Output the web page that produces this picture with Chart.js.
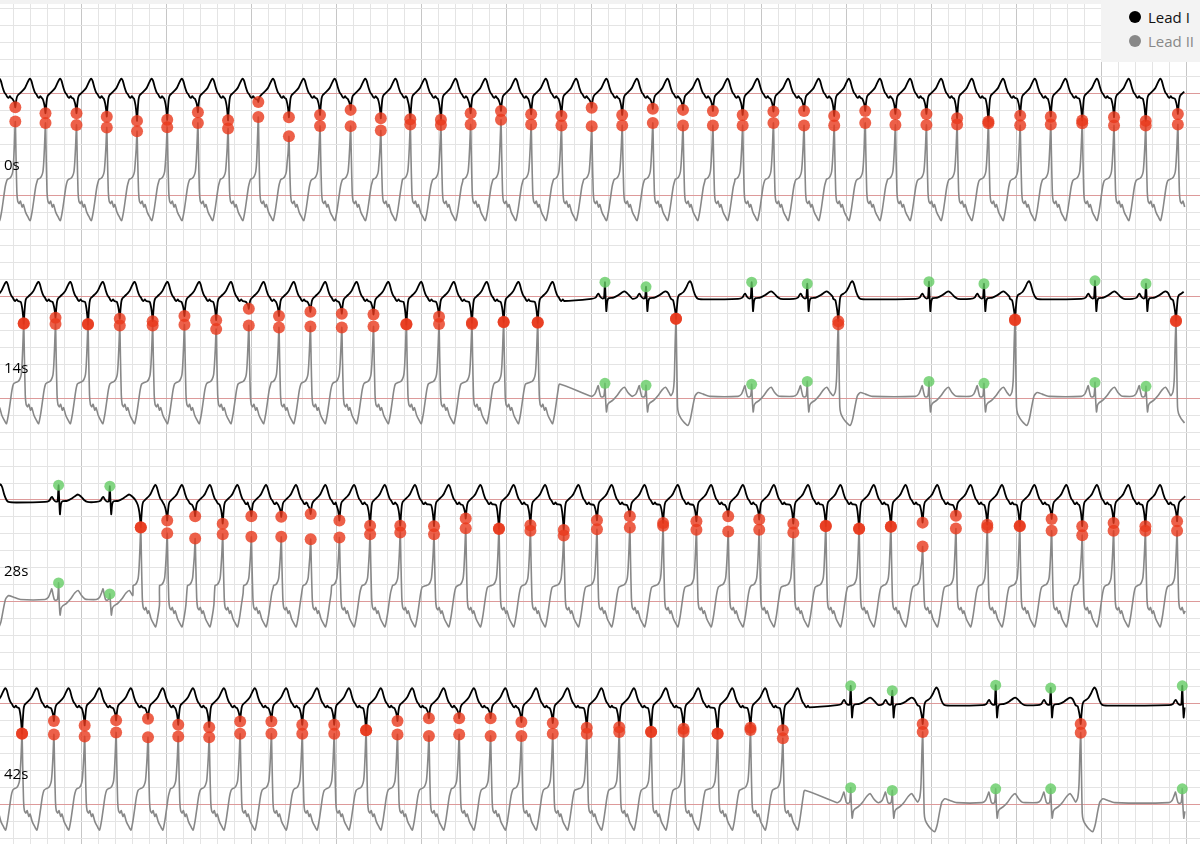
<!DOCTYPE html>
<html>
<head>
<meta charset="utf-8">
<script src="https://cdn.jsdelivr.net/npm/chart.js@4.4.1/dist/chart.umd.min.js"></script>
<style>
  html, body { margin: 0; padding: 0; background: #fff; }
  #wrap { position: relative; width: 1200px; height: 844px; overflow: hidden; }
  #topband { position: absolute; left: 0; top: 0; width: 1200px; height: 4px; background: #f2f2f2; z-index: 2; }
  #legend { position: absolute; left: 1101px; top: 0; width: 99px; height: 62px; background: #f3f3f3; z-index: 3;
            font-family: "Open Sans", "Noto Sans", sans-serif; font-size: 15px; }
  .item { position: absolute; left: 0; height: 20px; display: flex; align-items: center; white-space: nowrap; }
  .dot { width: 12px; height: 12px; border-radius: 50%; margin-left: 28px; margin-right: 7px; }
</style>
</head>
<body>
<div id="wrap">
  <canvas id="c"></canvas>
  <div id="topband"></div>
  <div id="legend"></div>
</div>
<script>
// ---------------- DATA ----------------
const ROW_LABELS = ['0s', '14s', '28s', '42s'];
const SERIES_NAMES = ['Lead I', 'Lead II'];

// beat times (s within row), beat types (V = ventricular run beat, P = isolated PVC, N = normal),
// lead I value at the marker (mV), lead II value at the marker (mV)
const row0Times = [-0.14, 0.219, 0.574, 0.939, 1.295, 1.651, 2.006, 2.367, 2.722, 3.078, 3.438, 3.804, 4.164, 4.519, 4.866, 5.226, 5.576, 5.933, 6.288, 6.644, 7.000, 7.359, 7.719, 8.074, 8.426, 8.776, 9.138, 9.498, 9.853, 10.218, 10.573, 10.938, 11.299, 11.667, 12.041, 12.401, 12.771, 13.145, 13.518, 13.896];
const row0Types = ['V','V','V','V','V','V','V','V','V','V','V','V','V','V','V','V','V','V','V','V','V','V','V','V','V','V','V','V','V','V','V','V','V','V','V','V','V','V','V','V'];
const row0Lead1 = [-0.12, -0.081, -0.116, -0.116, -0.136, -0.161, -0.155, -0.110, -0.158, -0.049, -0.140, -0.126, -0.096, -0.146, -0.152, -0.155, -0.116, -0.102, -0.122, -0.132, -0.083, -0.126, -0.090, -0.096, -0.102, -0.126, -0.106, -0.102, -0.132, -0.102, -0.120, -0.120, -0.146, -0.165, -0.130, -0.136, -0.159, -0.140, -0.161, -0.120];
const row0Lead2 = [0.41, 0.435, 0.427, 0.415, 0.400, 0.378, 0.402, 0.427, 0.394, 0.462, 0.348, 0.409, 0.408, 0.382, 0.418, 0.415, 0.418, 0.445, 0.418, 0.412, 0.408, 0.412, 0.427, 0.412, 0.412, 0.412, 0.427, 0.412, 0.412, 0.427, 0.415, 0.415, 0.418, 0.425, 0.413, 0.418, 0.425, 0.412, 0.412, 0.418];

const row1Times = [-0.06, 0.318, 0.692, 1.074, 1.448, 1.835, 2.209, 2.582, 2.966, 3.321, 3.691, 4.060, 4.433, 4.820, 5.204, 5.591, 5.964, 6.365, 7.156, 7.639, 7.992, 8.882, 9.536, 9.901, 10.968, 11.615, 11.980, 12.921, 13.521, 13.874];
const row1Types = ['V','V','V','V','V','V','V','V','V','V','V','V','V','V','V','V','V','V','N','N','P','N','N','P','N','N','P','N','N','P'];
const row1Lead1 = [-0.13, -0.159, -0.124, -0.164, -0.130, -0.144, -0.114, -0.138, -0.071, -0.114, -0.089, -0.100, -0.105, -0.164, -0.118, -0.154, -0.148, -0.154, 0.086, 0.059, -0.130, 0.086, 0.077, -0.144, 0.089, 0.077, -0.134, 0.094, 0.077, -0.140];
const row1Lead2 = [0.42, 0.443, 0.439, 0.439, 0.431, 0.431, 0.435, 0.409, 0.431, 0.419, 0.425, 0.419, 0.425, 0.439, 0.439, 0.439, 0.449, 0.449, 0.089, 0.077, 0.470, 0.083, 0.100, 0.437, 0.100, 0.089, 0.461, 0.094, 0.071, 0.455];

const row2Times = [-0.12, 0.728, 1.331, 1.695, 2.006, 2.335, 2.659, 2.996, 3.348, 3.694, 4.032, 4.393, 4.748, 5.145, 5.518, 5.909, 6.279, 6.671, 7.062, 7.449, 7.840, 8.232, 8.606, 8.971, 9.372, 9.754, 10.146, 10.520, 10.893, 11.285, 11.654, 12.036, 12.411, 12.771, 13.140, 13.514, 13.887];
const row2Types = ['P','N','N','V','V','V','V','V','V','V','V','V','V','V','V','V','V','V','V','V','V','V','V','V','V','V','V','V','V','V','V','V','V','V','V','V','V'];
const row2Lead1 = [-0.13, 0.087, 0.081, -0.161, -0.122, -0.096, -0.140, -0.096, -0.100, -0.083, -0.122, -0.152, -0.152, -0.155, -0.110, -0.171, -0.149, -0.177, -0.120, -0.096, -0.136, -0.126, -0.096, -0.116, -0.140, -0.155, -0.171, -0.159, -0.134, -0.093, -0.146, -0.155, -0.112, -0.155, -0.136, -0.155, -0.126];
const row2Lead2 = [0.43, 0.110, 0.045, 0.437, 0.403, 0.372, 0.398, 0.382, 0.382, 0.368, 0.378, 0.398, 0.408, 0.398, 0.433, 0.431, 0.418, 0.390, 0.427, 0.437, 0.447, 0.424, 0.413, 0.424, 0.408, 0.447, 0.431, 0.443, 0.325, 0.431, 0.437, 0.447, 0.418, 0.392, 0.418, 0.418, 0.418];

const row3Times = [-0.07, 0.298, 0.673, 1.035, 1.405, 1.780, 2.136, 2.500, 2.864, 3.232, 3.595, 3.971, 4.346, 4.715, 5.085, 5.441, 5.811, 6.173, 6.542, 6.942, 7.324, 7.699, 8.081, 8.481, 8.868, 9.249, 10.047, 10.536, 10.894, 11.753, 12.400, 12.753, 13.948];
const row3Types = ['V','V','V','V','V','V','V','V','V','V','V','V','V','V','V','V','V','V','V','V','V','V','V','V','V','V','N','N','P','N','N','P','N'];
const row3Lead1 = [-0.13, -0.181, -0.106, -0.132, -0.102, -0.093, -0.128, -0.142, -0.108, -0.108, -0.128, -0.128, -0.161, -0.106, -0.089, -0.089, -0.089, -0.112, -0.118, -0.146, -0.142, -0.171, -0.152, -0.181, -0.146, -0.161, 0.102, 0.073, -0.124, 0.106, 0.089, -0.124, 0.102];
const row3Lead2 = [0.42, 0.421, 0.415, 0.403, 0.427, 0.398, 0.403, 0.398, 0.419, 0.419, 0.419, 0.419, 0.439, 0.415, 0.406, 0.415, 0.406, 0.406, 0.419, 0.419, 0.429, 0.431, 0.431, 0.421, 0.441, 0.392, 0.100, 0.084, 0.429, 0.094, 0.094, 0.425, 0.094];

// beat waveform shapes: [time from marker (s), offset (mV), share of the marker value]
const vtLead1 = [[-0.035,-0.03,0],[-0.018,-0.02,0.3],[-0.008,0,0.7],[0,0,1],[0.008,0,0.6],[0.018,-0.01,0.15],[0.03,-0.01,0],[0.05,0,0],[0.075,0.012,0],[0.095,0.022,0],[0.115,0.035,0],[0.14,0.062,0],[0.16,0.082,0],[0.175,0.088,0],[0.19,0.074,0],[0.21,0.036,0],[0.23,0.008,0],[0.25,-0.006,0],[0.265,-0.02,0],[0.28,-0.025,0],[0.295,-0.015,0],[0.31,-0.025,0]];
const vtLead2 = [[-0.09,0.095,0],[-0.065,0.1,0],[-0.045,0.115,0],[-0.03,0.14,0],[-0.02,0.2,0],[-0.01,0,0.72],[0,0,1],[0.008,0,0.55],[0.018,0.02,0],[0.028,-0.035,0],[0.045,-0.05,0],[0.06,-0.035,0],[0.08,-0.07,0],[0.095,-0.055,0],[0.12,-0.1,0],[0.15,-0.13,0],[0.175,-0.15,0],[0.2,-0.09,0],[0.22,-0.02,0],[0.24,0.05,0],[0.258,0.085,0]];
const normalLead1 = [[-0.16,-0.012,0],[-0.11,-0.005,0],[-0.09,0.012,0],[-0.075,0.018,0],[-0.055,0,0],[-0.03,-0.01,0],[-0.012,-0.008,0],[-0.005,0,0.5],[0,0,1],[0.006,0,0.2],[0.016,-0.085,0],[0.028,-0.025,0],[0.045,-0.008,0],[0.1,-0.005,0],[0.16,0.01,0],[0.2,0.025,0],[0.23,0.032,0],[0.26,0.022,0],[0.3,0,0],[0.34,-0.012,0]];
const normalLead2 = [[-0.16,0.012,0],[-0.12,0.025,0],[-0.095,0.055,0],[-0.08,0.075,0],[-0.065,0.04,0],[-0.05,0.012,0],[-0.03,0.008,0],[-0.012,0.015,0],[-0.005,0,0.5],[0,0,1],[0.008,-0.01,0],[0.018,-0.08,0],[0.03,-0.04,0],[0.05,-0.025,0],[0.09,-0.012,0],[0.14,0.015,0],[0.19,0.05,0],[0.23,0.065,0],[0.27,0.035,0],[0.31,0.015,0],[0.35,0.012,0]];
const pvcLead1 = [[-0.06,-0.012,0],[-0.035,-0.02,0],[-0.018,-0.02,0.3],[-0.008,0,0.7],[0,0,1],[0.008,0,0.6],[0.02,-0.012,0],[0.035,0.01,0],[0.06,0.018,0],[0.09,0.03,0],[0.12,0.055,0],[0.145,0.082,0],[0.165,0.092,0],[0.185,0.075,0],[0.21,0.03,0],[0.235,0,0],[0.26,-0.012,0],[0.35,-0.015,0]];
const pvcLead2 = [[-0.06,0.015,0],[-0.035,0.04,0],[-0.02,0.12,0],[-0.01,0,0.7],[0,0,1],[0.008,0,0.5],[0.018,-0.05,0],[0.03,-0.09,0],[0.06,-0.12,0],[0.1,-0.145,0],[0.14,-0.16,0],[0.17,-0.12,0],[0.2,-0.04,0],[0.225,0.015,0],[0.26,0.035,0],[0.32,0.025,0],[0.4,0.012,0]];

// ---------------- LAYOUT ----------------
const ROW_SPAN = 14;          // seconds per row
const TRACE_END = 13.985;     // where the recorded strip stops in each row
const ROW_GAP = 1.2;          // mV between rows
const LEAD_GAP = 0.6;         // mV between Lead I and Lead II
const TOP_BASE = -0.5;        // Lead I baseline of first row
const LABEL_DROP = 0.425;     // row label below Lead I baseline
const X_MIN = 0.0388, X_MAX = X_MIN + 1200 / 85;
const Y_MAX = 0.053, Y_MIN = Y_MAX - 844 / 169.3;

const rows = [
  { times: row0Times, types: row0Types, l1: row0Lead1, l2: row0Lead2 },
  { times: row1Times, types: row1Types, l1: row1Lead1, l2: row1Lead2 },
  { times: row2Times, types: row2Types, l1: row2Lead1, l2: row2Lead2 },
  { times: row3Times, types: row3Types, l1: row3Lead1, l2: row3Lead2 }
];
const SHAPES = { V: [vtLead1, vtLead2], N: [normalLead1, normalLead2], P: [pvcLead1, pvcLead2] };
const baseOf = (r, lead) => TOP_BASE - r * ROW_GAP - lead * LEAD_GAP;
const BASELINES = [];
for (let r = 0; r < rows.length; r++) { BASELINES.push(baseOf(r, 0), baseOf(r, 1)); }

function buildTrace(row, lead, base) {
  const pts = [];
  const amps = lead === 0 ? row.l1 : row.l2;
  for (let i = 0; i < row.times.length; i++) {
    const shape = SHAPES[row.types[i]][lead];
    const next = i + 1 < row.times.length ? row.times[i + 1] + SHAPES[row.types[i + 1]][lead][0][0] : Infinity;
    for (const [dt, off, share] of shape) {
      const t = row.times[i] + dt;
      if (dt > 0 && t >= next) continue;
      if (t < 0 || t > TRACE_END) continue;
      pts.push({ x: t, y: base + off + share * amps[i] });
    }
  }
  return pts;
}

const lead1Data = [], lead2Data = [], redDots = [], greenDots = [];
rows.forEach((row, r) => {
  const b1 = baseOf(r, 0), b2 = baseOf(r, 1);
  lead1Data.push(...buildTrace(row, 0, b1), { x: TRACE_END, y: null });
  lead2Data.push(...buildTrace(row, 1, b2), { x: TRACE_END, y: null });
  row.times.forEach((t, i) => {
    if (t < 0) return;
    const target = row.types[i] === 'N' ? greenDots : redDots;
    target.push({ x: t, y: b1 + row.l1[i] }, { x: t, y: b2 + row.l2[i] });
  });
});

const X_TICKS = [];
for (let k = 1; k <= ROW_SPAN * 5; k++) X_TICKS.push(Math.round(k * 2) / 10);
const Y_TICKS = [];
for (let k = -49; k <= 0; k++) Y_TICKS.push(k / 10);

const rowLabelPlugin = {
  id: 'rowLabels',
  afterDatasetsDraw(chart) {
    const { ctx, chartArea } = chart;
    const y = chart.scales.y;
    ctx.save();
    ctx.font = '15px "Open Sans", "Noto Sans", sans-serif';
    ctx.fillStyle = '#000';
    ctx.textBaseline = 'middle';
    ctx.textAlign = 'left';
    ROW_LABELS.forEach((lab, r) => {
      ctx.fillText(lab, chartArea.left + 4, y.getPixelForValue(baseOf(r, 0) - LABEL_DROP));
    });
    ctx.restore();
  }
};

const chart = new Chart(document.getElementById('c'), {
  type: 'line',
  data: {
    datasets: [
      { label: 'beats', data: redDots, showLine: false, pointRadius: 6, pointHoverRadius: 6,
        pointBackgroundColor: 'rgba(232, 56, 28, 0.8)', pointBorderWidth: 0, borderColor: 'rgba(0,0,0,0)', order: 0 },
      { label: 'normal', data: greenDots, showLine: false, pointRadius: 5.5, pointHoverRadius: 5.5,
        pointBackgroundColor: 'rgba(100, 204, 100, 0.8)', pointBorderWidth: 0, borderColor: 'rgba(0,0,0,0)', order: 0 },
      { label: SERIES_NAMES[0], data: lead1Data, borderColor: '#000000', backgroundColor: '#000000',
        borderWidth: 1.8, pointRadius: 0, tension: 0.2, spanGaps: false, order: 1 },
      { label: SERIES_NAMES[1], data: lead2Data, borderColor: '#888888', backgroundColor: '#888888',
        borderWidth: 1.6, pointRadius: 0, tension: 0.2, spanGaps: false, order: 2 }
    ]
  },
  options: {
    responsive: true,
    maintainAspectRatio: false,
    animation: false,
    devicePixelRatio: 1,
    layout: { padding: 0, autoPadding: false },
    plugins: { legend: { display: false }, tooltip: { enabled: false } },
    events: [],
    scales: {
      x: {
        type: 'linear', min: X_MIN, max: X_MAX,
        afterBuildTicks: (s) => { s.ticks = X_TICKS.map(v => ({ value: v })); },
        ticks: { display: false },
        border: { display: false },
        grid: {
          drawTicks: false, lineWidth: 1,
          color: (c) => (c.tick && Math.abs(c.tick.value - Math.round(c.tick.value)) < 1e-6) ? '#c6c6c6' : '#e4e4e4'
        }
      },
      y: {
        type: 'linear', min: Y_MIN, max: Y_MAX,
        afterBuildTicks: (s) => { s.ticks = Y_TICKS.map(v => ({ value: v })); },
        ticks: { display: false },
        border: { display: false },
        grid: {
          drawTicks: false, lineWidth: 1,
          color: (c) => (c.tick && BASELINES.some(b => Math.abs(b - c.tick.value) < 1e-6)) ? '#dd9a9a' : '#e4e4e4'
        }
      }
    }
  },
  plugins: [rowLabelPlugin]
});

// legend built from the chart's own series
const legendEl = document.getElementById('legend');
chart.data.datasets.filter(d => SERIES_NAMES.includes(d.label)).forEach((d, i) => {
  const item = document.createElement('div');
  item.className = 'item';
  item.style.top = (6.7 + i * 24) + 'px';
  const dot = document.createElement('span');
  dot.className = 'dot';
  dot.style.background = d.borderColor;
  const txt = document.createElement('span');
  txt.textContent = d.label;
  txt.style.color = d.borderColor === '#000000' ? '#111111' : d.borderColor;
  item.appendChild(dot); item.appendChild(txt);
  legendEl.appendChild(item);
});
</script>
</body>
</html>
